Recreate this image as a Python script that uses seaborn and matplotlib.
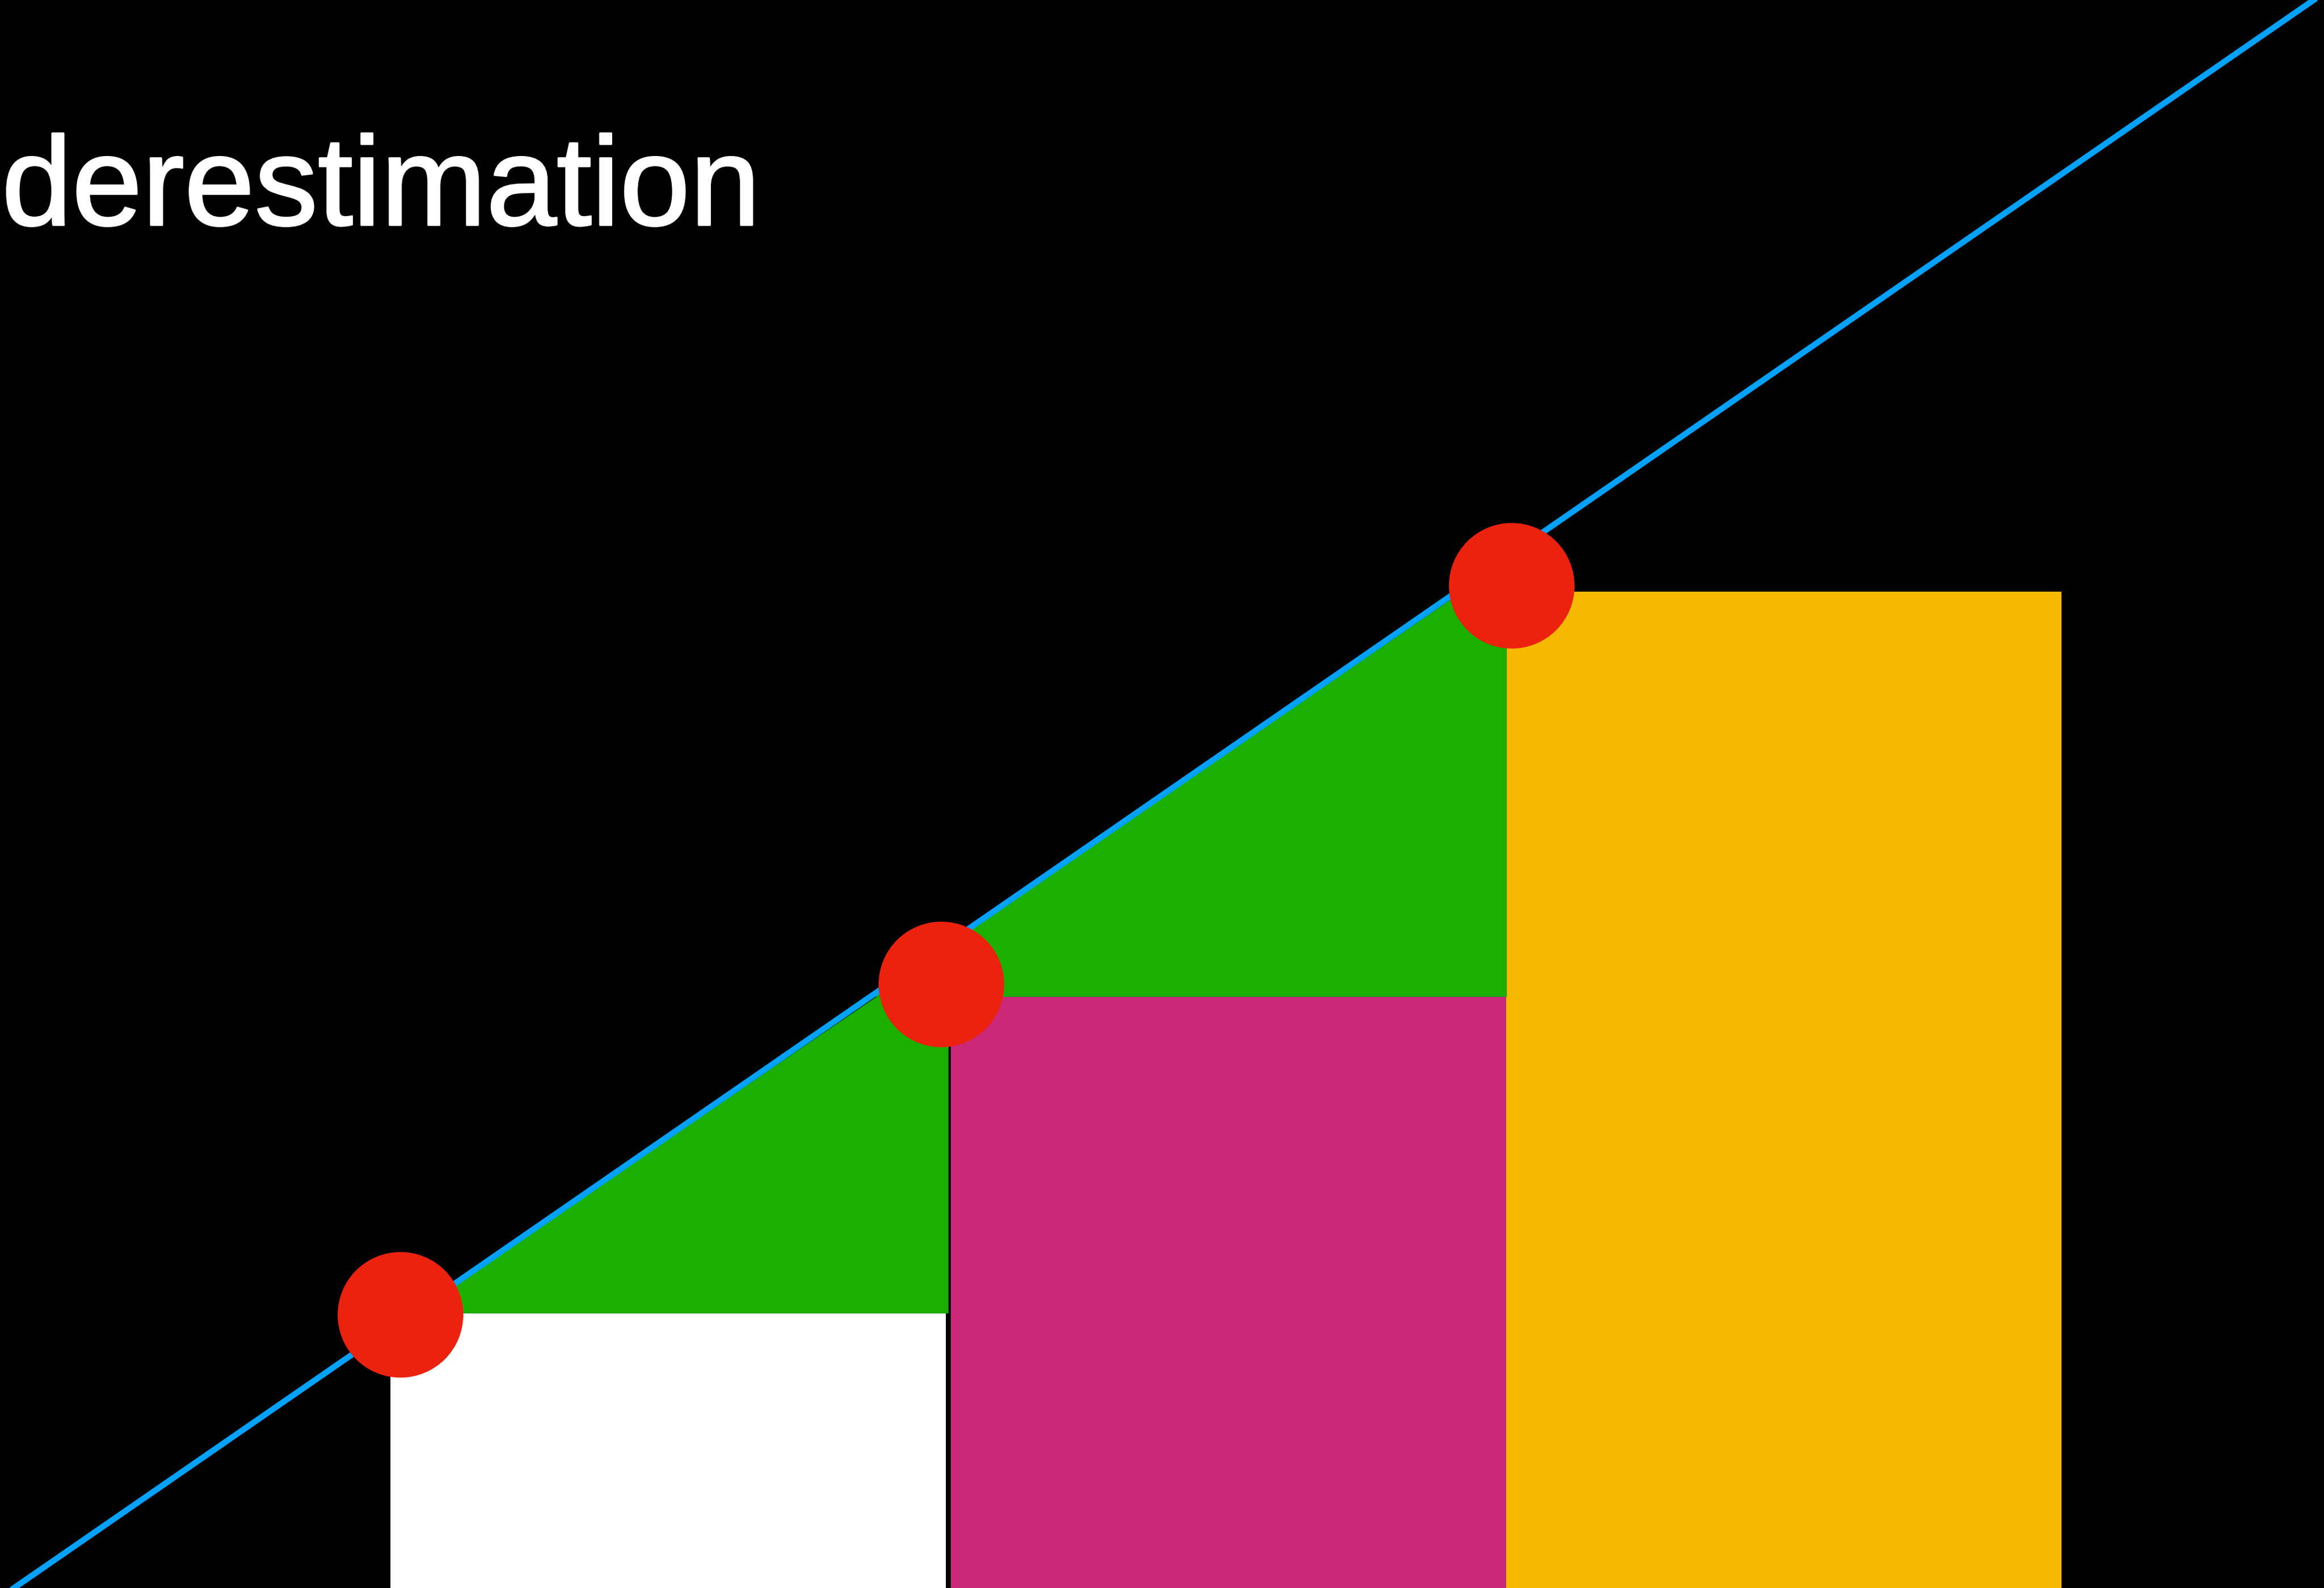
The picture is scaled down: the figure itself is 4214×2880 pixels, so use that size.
import matplotlib
matplotlib.use("Agg")
import matplotlib.pyplot as plt
import matplotlib.patheffects as pe
import seaborn as sns

# values, in "rectangle width" units (1 = one bar width)
bar_left = [1.0, 2.009, 3.009]
bar_width = [1.0, 1.0, 1.0]
bar_height = [0.496, 1.066, 1.794]
bar_colors = ["#FFFFFF", "#CA2879", "#F6B900"]

# blue reference line (two end points)
line_x = [0.322, 4.463]
line_y = [0.0, 2.860]

# red sample points
dot_x = [1.018, 1.992, 3.019]
dot_y = [0.492, 1.087, 1.805]

# green "missing area" triangles
tri1_x = [1.040, 2.004, 2.004]
tri1_y = [0.496, 0.496, 1.153]
tri2_x = [1.865, 3.009, 3.009]
tri2_y = [1.066, 1.066, 1.849]

# only this part of the word is inside the frame
title = "derestimation"

fig = plt.figure(figsize=(42.14, 28.80), dpi=100, facecolor="black")
ax = fig.add_axes([0, 0, 1, 1])
ax.set_facecolor("black")

ax.bar(bar_left, bar_height, width=bar_width, align="edge",
       color=bar_colors, linewidth=0, zorder=1)

for tx, ty in [(tri1_x, tri1_y), (tri2_x, tri2_y)]:
    ax.fill(tx, ty, color="#1BB000", edgecolor="#179600", linewidth=0.8, zorder=2)

sns.lineplot(x=line_x, y=line_y, ax=ax, color="#00A2FF", linewidth=7.7, zorder=3)
sns.scatterplot(x=dot_x, y=dot_y, ax=ax, s=26900, color="#EC220E",
                edgecolor="none", linewidth=0, zorder=4)

ax.set_xlim(0.2969, 4.4816)
ax.set_ylim(0, 2.860)
ax.axis("off")

fig.text(3 / 4214, 1 - 408 / 2880, title, color="white",
         fontsize=165, family="Liberation Sans", ha="left", va="baseline",
         path_effects=[pe.withStroke(linewidth=2.5, foreground="white")])

fig.savefig("out.png", dpi=100, facecolor="black")
